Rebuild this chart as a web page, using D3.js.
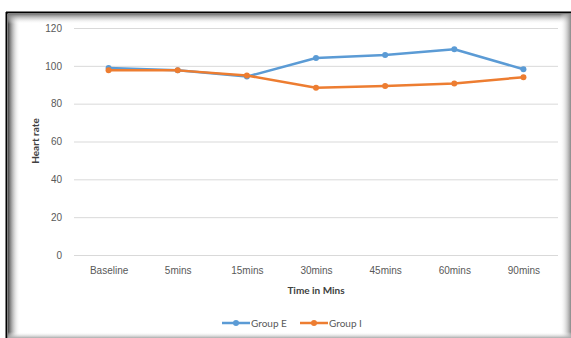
<!DOCTYPE html>
<html><head><meta charset="utf-8">
<script src="https://cdn.jsdelivr.net/npm/d3@7"></script>
<style>body{margin:0;background:#fff;}svg{display:block;font-family:Lato,"Open Sans",sans-serif;}</style>
</head><body>
<svg id="c" width="571" height="338"></svg>
<script>
const categories = ["Baseline","5mins","15mins","30mins","45mins","60mins","90mins"];
const groupE = [98.8, 97.7, 94.3, 104.1, 105.7, 108.8, 98.2];
const groupI = [97.6, 97.6, 94.9, 88.4, 89.4, 90.6, 94.0];
const yTicks = [0,20,40,60,80,100,120];
const seriesNames = ["Group E","Group I"];
const colors = ["#5b9bd5","#ed7d31"];

const svg = d3.select("#c");
const defs = svg.append("defs");
const gl = defs.append("linearGradient").attr("id","gl").attr("x1",0).attr("x2",1);
gl.append("stop").attr("offset",0).attr("stop-color","#444");
gl.append("stop").attr("offset",1).attr("stop-color","#fff").attr("stop-opacity",0);
const gt = defs.append("linearGradient").attr("id","gt").attr("x1",0).attr("x2",0).attr("y1",0).attr("y2",1);
gt.append("stop").attr("offset",0).attr("stop-color","#777");
gt.append("stop").attr("offset",1).attr("stop-color","#fff").attr("stop-opacity",0);
const gr = defs.append("linearGradient").attr("id","gr").attr("x1",0).attr("x2",1);
gr.append("stop").attr("offset",0).attr("stop-color","#fff").attr("stop-opacity",0);
gr.append("stop").attr("offset",1).attr("stop-color","#888");
const gb = defs.append("linearGradient").attr("id","gb").attr("x1",0).attr("x2",0).attr("y1",0).attr("y2",1);
gb.append("stop").attr("offset",0).attr("stop-color","#fff").attr("stop-opacity",0);
gb.append("stop").attr("offset",1).attr("stop-color","#aaa");

// frame with shadows
svg.append("rect").attr("x",8).attr("y",14).attr("width",12).attr("height",324).attr("fill","url(#gl)");
svg.append("rect").attr("x",8).attr("y",14).attr("width",563).attr("height",10).attr("fill","url(#gt)");
svg.append("rect").attr("x",560).attr("y",14).attr("width",11).attr("height",324).attr("fill","url(#gr)");
svg.append("rect").attr("x",8).attr("y",332).attr("width",563).attr("height",6).attr("fill","url(#gb)");
svg.append("line").attr("x1",6).attr("x2",571).attr("y1",12.5).attr("y2",12.5).attr("stroke","#000").attr("stroke-width",2);
svg.append("line").attr("x1",6.5).attr("x2",6.5).attr("y1",12).attr("y2",338).attr("stroke","#000").attr("stroke-width",2);

const x0 = 74, x1 = 558;
const x = d3.scalePoint().domain(categories).range([x0, x1]).padding(0.5);
const y = d3.scaleLinear().domain([0,120]).range([255, 28]);

// gridlines
const yAxis = d3.axisLeft(y).tickValues(yTicks).tickSize(-(x1-x0)).tickPadding(12);
const ga = svg.append("g").attr("transform",`translate(${x0},0)`).call(yAxis);
ga.select(".domain").remove();
ga.selectAll(".tick line").attr("stroke","#d9d9d9");
ga.selectAll(".tick text").attr("fill","#595959").attr("font-size",10);

const xAxis = d3.axisBottom(x).tickSize(0).tickPadding(11);
const gx = svg.append("g").attr("transform","translate(0,256)").call(xAxis);
gx.select(".domain").remove();
gx.selectAll(".tick text").attr("fill","#595959").attr("font-size",10);

// titles
svg.append("text").attr("x",316).attr("y",294).attr("text-anchor","middle")
  .attr("font-size",10).attr("font-weight","bold").attr("fill","#404040").text("Time in Mins");
svg.append("text").attr("transform","translate(39,141) rotate(-90)").attr("text-anchor","middle")
  .attr("font-size",10).attr("font-weight","bold").attr("fill","#404040").text("Heart rate");

// series
const data = [groupE, groupI];
const line = d3.line().x((d,i)=>x(categories[i])).y(d=>y(d));
data.forEach((vals,k)=>{
  svg.append("path").datum(vals).attr("d",line).attr("fill","none")
    .attr("stroke",colors[k]).attr("stroke-width",2.5).attr("stroke-linejoin","round");
  svg.selectAll(null).data(vals).enter().append("circle")
    .attr("cx",(d,i)=>x(categories[i])).attr("cy",d=>y(d)).attr("r",3).attr("fill",colors[k]);
});

// legend
const legX = [222, 300];
seriesNames.forEach((n,k)=>{
  const g = svg.append("g").attr("transform",`translate(${legX[k]},323)`);
  g.append("line").attr("x1",0).attr("x2",28).attr("stroke",colors[k]).attr("stroke-width",2.5);
  g.append("circle").attr("cx",14).attr("r",3).attr("fill",colors[k]);
  g.append("text").attr("x",29).attr("y",3.5).attr("font-size",10).attr("fill","#595959").text(n);
});
</script>
</body></html>
